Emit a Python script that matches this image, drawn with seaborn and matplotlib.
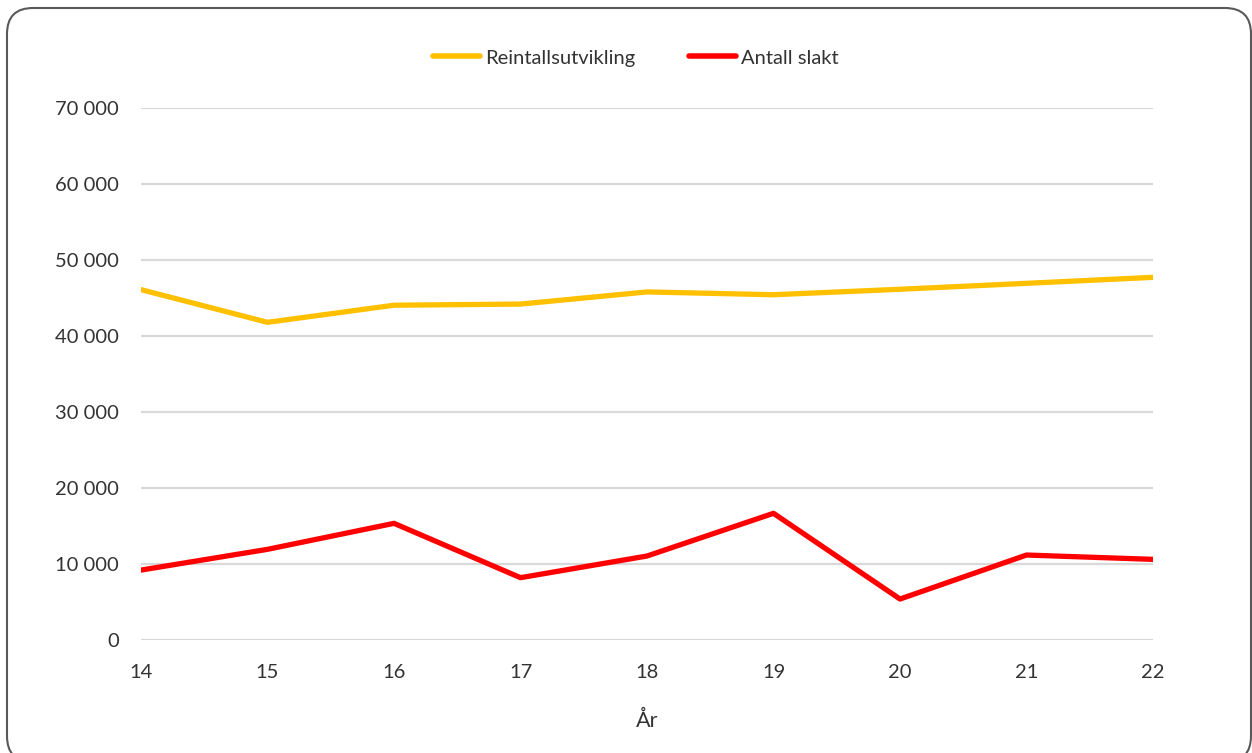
import matplotlib.pyplot as plt
import matplotlib.ticker as mticker
from matplotlib.patches import FancyBboxPatch
import seaborn as sns
import pandas as pd

years = [14, 15, 16, 17, 18, 19, 20, 21, 22]
reintall = [46100, 41800, 44050, 44200, 45800, 45430, 46150, 46930, 47720]
slakt = [9200, 11930, 15350, 8200, 11050, 16670, 5390, 11180, 10610]
series_names = ["Reintallsutvikling", "Antall slakt"]
colors = ["#FFC000", "#FF0000"]

df = pd.DataFrame({
    "År": years * 2,
    "verdi": reintall + slakt,
    "serie": [series_names[0]] * len(years) + [series_names[1]] * len(years),
})

sns.set_style("white")
plt.rcParams['font.family'] = ['Lato', 'DejaVu Sans']

fig = plt.figure(figsize=(12.52, 7.53), dpi=100)
ax = fig.add_axes([141 / 1252, 1 - 640 / 753, (1153 - 141) / 1252, (640 - 108) / 753])

sns.lineplot(data=df, x="År", y="verdi", hue="serie", palette=colors,
             linewidth=3.8, ax=ax, legend=False, zorder=3)

ax.set_xlim(14, 22)
ax.set_ylim(0, 70000)
ax.set_xticks(years)
ax.set_yticks(range(0, 70001, 10000))
ax.yaxis.set_major_formatter(mticker.FuncFormatter(lambda v, p: f"{int(v):,}".replace(",", " ")))
ax.grid(axis="y", color="#d9d9d9", linewidth=1.6, zorder=0)
ax.grid(axis="x", visible=False)
for s in ax.spines.values():
    s.set_visible(False)
ax.tick_params(axis="both", length=0, labelsize=14.5, labelcolor="#333333")
ax.tick_params(axis="x", pad=17)
ax.tick_params(axis="y", pad=16)
ax.set_xlabel("År", fontsize=15.5, color="#333333", labelpad=22)
ax.set_ylabel("")

handles = [plt.Line2D([], [], color=c, linewidth=4, solid_capstyle="round") for c in colors]
fig.legend(handles, series_names, loc="center", bbox_to_anchor=(0.508, 1 - 58 / 753),
           ncol=2, frameon=False, fontsize=14.5, handlelength=2.35, handletextpad=0.25,
           columnspacing=2.65, labelcolor="#333333")

# rounded frame, in pixel coordinates, partly cut off at the bottom
border = FancyBboxPatch((7, 753 - 762), 1244, 754,
                        boxstyle="round,pad=0,rounding_size=26",
                        transform=None, fill=False,
                        edgecolor="#595959", linewidth=1.5)
fig.patches.append(border)

fig.savefig("out.png", dpi=100)
